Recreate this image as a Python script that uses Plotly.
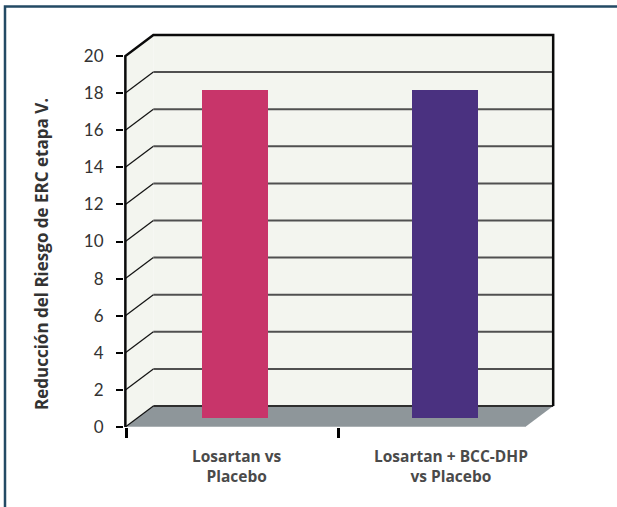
import plotly.graph_objects as go

# ---- data ----
categories = ["Losartan vs<br>Placebo", "Losartan + BCC-DHP<br>vs Placebo"]
values = [17.7, 17.7]
bar_colors = ["#c8356a", "#4a3180"]
y_ticks = list(range(0, 21, 2))
y_title = "Reducción del Riesgo de ERC etapa V."

# ---- geometry (pixels -> axis units) ----
W, H = 617, 507
L, R, T, B = 124, 57, 30, 80
PW, PH = W - L - R, H - T - B
PX_Y = 18.55            # pixels per y unit
PX_X = 212.0            # pixels per category
X_MIN = -(126 - L) / PX_X
X_RANGE = [X_MIN, X_MIN + PW / PX_X]
Y_RANGE = [0, PH / PX_Y]

WALL_TOP = 20
DX = 28 / PX_X          # depth of the 3D box, x
DY = 21 / PX_Y          # depth of the 3D box, y
X0 = -0.003             # front-left corner of the box
XR = 2.015              # back-right corner of the box
BAR_DEPTH = 0.43        # fraction of the depth where bars stand
BAR_W = 66 / PX_X
bar_x = [0.515, 1.505]
label_x = [0.525, 1.533]

WALL_FILL = "#f3f5ef"
FLOOR_FILL = "#8e969a"
GRID = "#505050"
TEXT_FONT = "Open Sans"

fig = go.Figure()
fig.add_trace(go.Bar(
    x=bar_x, y=values, base=[DY * BAR_DEPTH] * len(values),
    width=BAR_W, marker=dict(color=bar_colors, line=dict(width=0)),
    hoverinfo="skip", showlegend=False,
))

shapes = []


def path(pts, close=True):
    s = "M " + " L ".join(f"{x},{y}" for x, y in pts)
    return s + (" Z" if close else "")


# side wall and back wall
shapes.append(dict(type="path", xref="x", yref="y", layer="below",
                   path=path([(X0, 0), (X0 + DX, DY), (X0 + DX, WALL_TOP + DY), (X0, WALL_TOP)]),
                   fillcolor=WALL_FILL, line=dict(width=0)))
shapes.append(dict(type="rect", xref="x", yref="y", layer="below",
                   x0=X0 + DX, x1=XR, y0=DY, y1=WALL_TOP + DY,
                   fillcolor=WALL_FILL, line=dict(width=0)))
# floor
shapes.append(dict(type="path", xref="x", yref="y", layer="below",
                   path=path([(X0, 0), (X0 + DX, DY), (XR, DY), (XR - DX, 0)]),
                   fillcolor=FLOOR_FILL, line=dict(width=0)))
shapes.append(dict(type="line", xref="x", yref="y", layer="below",
                   x0=X0, y0=0, x1=XR - DX, y1=0, line=dict(color="#b4babd", width=1.5)))
shapes.append(dict(type="line", xref="x", yref="y", layer="below",
                   x0=X0 + DX, y0=DY, x1=XR, y1=DY, line=dict(color="#2e2e2e", width=2)))

# gridlines: diagonal on side wall, horizontal on back wall
for v in y_ticks:
    if v == WALL_TOP:
        continue
    shapes.append(dict(type="line", xref="x", yref="y", layer="below",
                       x0=X0, y0=v, x1=X0 + DX, y1=v + DY, line=dict(color="#111", width=1.2)))
    if v > 0:
        shapes.append(dict(type="line", xref="x", yref="y", layer="below",
                           x0=X0 + DX, y0=v + DY, x1=XR, y1=v + DY, line=dict(color=GRID, width=2)))

# box outline
shapes.append(dict(type="path", xref="x", yref="y", layer="below",
                   path=path([(X0, 0), (X0, WALL_TOP), (X0 + DX, WALL_TOP + DY),
                              (XR, WALL_TOP + DY), (XR, DY)], close=False),
                   line=dict(color="#0a0a0a", width=2.5)))


# outer frame (top and left edges)
def px_paper(px, py):
    return (px - L) / PW, (H - B - py) / PH


fx0, fy0 = px_paper(5, 6.5)
fx1, _ = px_paper(640, 0)
_, fy1 = px_paper(0, 530)
shapes.append(dict(type="path", xref="paper", yref="paper",
                   path=f"M {fx0},{fy1} L {fx0},{fy0} L {fx1},{fy0}",
                   line=dict(color="#234a64", width=2.5)))

annotations = []
for cx, txt in zip(label_x, categories):
    annotations.append(dict(x=cx, y=0, xref="x", yref="y", xanchor="center", yanchor="top",
                            yshift=-16, text=f"<b>{txt}</b>", showarrow=False, align="center",
                            font=dict(family=TEXT_FONT, size=15.5, color="#4a4a4a")))
tx, ty = px_paper(41, 254)
annotations.append(dict(x=tx, y=ty, xref="paper", yref="paper", xanchor="center",
                        yanchor="middle", textangle=-90,
                        text=f"<b>{y_title}</b>", showarrow=False,
                        font=dict(family=TEXT_FONT, size=17, color="#333333")))

fig.update_layout(
    width=W, height=H, margin=dict(l=L, r=R, t=T, b=B, pad=0),
    paper_bgcolor="white", plot_bgcolor="white",
    shapes=shapes, annotations=annotations, bargap=0,
    xaxis=dict(range=X_RANGE, showgrid=False, zeroline=False, showline=False,
               tickmode="array", tickvals=[0, 1], showticklabels=False,
               ticks="outside", ticklen=10, tickwidth=2.5, tickcolor="#000", fixedrange=True),
    yaxis=dict(range=Y_RANGE, showgrid=False, zeroline=False, showline=False,
               tickmode="array", tickvals=y_ticks, ticktext=[str(v) for v in y_ticks],
               ticks="outside", ticklen=7, tickwidth=1.5, tickcolor="#000",
               ticklabelstandoff=9,
               tickfont=dict(family="Lato", size=17, color="#333333"), fixedrange=True),
)

fig.write_html("out.html")
